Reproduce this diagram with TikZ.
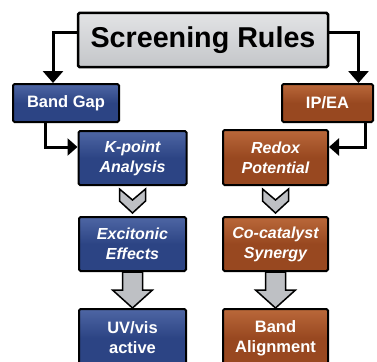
\documentclass[tikz,border=0pt]{standalone}
\usepackage{fontspec}
\setmainfont{Liberation Sans}
\usetikzlibrary{arrows.meta,calc}
\definecolor{navy}{RGB}{44,68,132}
\definecolor{navytop}{RGB}{78,102,164}
\definecolor{rust}{RGB}{152,72,32}
\definecolor{rusttop}{RGB}{186,104,58}
\definecolor{greybox}{RGB}{196,198,201}
\definecolor{greytop}{RGB}{226,227,229}
\definecolor{chevgrey}{RGB}{190,192,196}
\tikzset{
  box/.style={draw=black, line width=2pt, rounded corners=1.5pt, inner sep=0pt,
    text=white, align=center, font=\fontsize{16.5}{20}\selectfont\bfseries},
  bluebox/.style={box, top color=navytop, bottom color=navy, middle color=navy},
  rustbox/.style={box, top color=rusttop, bottom color=rust, middle color=rust},
  ital/.style={font=\fontsize{16}{20}\selectfont\bfseries\itshape},
  titlebox/.style={box, top color=greytop, bottom color=greybox, text=black,
    line width=2.5pt, font=\fontsize{28.7}{32}\selectfont\bfseries},
  conn/.style={draw=black, line width=3pt},
  bigtip/.style={-{Triangle[width=20pt,length=12pt]}},
  sidetip/.style={-{Triangle[width=17pt,length=10pt]}},
  chev/.style={fill=chevgrey, draw=black, line width=1.5pt, line join=miter},
}
\begin{document}
\begin{tikzpicture}[x=1pt,y=-1pt]
\clip (0,0) rectangle (377,361);
\fill[white] (0,0) rectangle (377,361);
% nodes
\node[titlebox, minimum width=250pt, minimum height=54pt] (title) at (203,40) {Screening Rules};
\node[bluebox, minimum width=106pt, minimum height=38pt] (bandgap) at (66,103) {Band Gap};
\node[rustbox, minimum width=91pt, minimum height=38pt] (ipea) at (327.5,103) {IP/EA};
\node[bluebox, ital, minimum width=108pt, minimum height=54pt] (kpoint) at (132.5,158) {K-point\\Analysis};
\node[rustbox, ital, minimum width=105pt, minimum height=55pt] (redox) at (275.5,157.5) {Redox\\Potential};
\node[bluebox, ital, minimum width=107pt, minimum height=54pt] (excitonic) at (132.5,244) {Excitonic\\Effects};
\node[rustbox, ital, minimum width=105pt, minimum height=54pt] (cocat) at (275.5,244) {Co-catalyst\\Synergy};
\node[bluebox, minimum width=107pt, minimum height=58pt] (uvvis) at (132.5,338) {UV/vis\\active};
\node[rustbox, minimum width=105pt, minimum height=58pt] (bandal) at (275.5,338) {Band\\Alignment};
% connectors
\draw[conn, bigtip] ([yshift=7pt]title.west) -| ([xshift=-13pt]bandgap.north);
\draw[conn, bigtip] ([yshift=7pt]title.east) -| ([xshift=31pt]ipea.north);
\draw[conn, sidetip] ([xshift=-21pt]bandgap.south) |- ([yshift=11pt]kpoint.west);
\draw[conn, sidetip] ([xshift=37.5pt]ipea.south) |- ([yshift=10.5pt]redox.east);
% chevrons
\coordinate (c1) at ($(kpoint.south)!0.5!(excitonic.north)$);
\coordinate (c2) at ($(redox.south)!0.5!(cocat.north)$);
\foreach \c in {c1,c2}{
  \draw[chev] (\c) ++(-13,-12) -- ++(13,11) -- ++(13,-11) -- ++(0,12) -- ++(-13,12) -- ++(-13,-12) -- cycle;
}
% block arrows
\coordinate (b1) at ($(excitonic.south)!0.5!(uvvis.north)$);
\coordinate (b2) at ($(cocat.south)!0.5!(bandal.north)$);
\foreach \b in {b1,b2}{
  \draw[chev] (\b) ++(-10,-18) -- ++(20,0) -- ++(0,18) -- ++(10,0) -- ++(-20,18) -- ++(-20,-18) -- ++(10,0) -- cycle;
}
\end{tikzpicture}
\end{document}
